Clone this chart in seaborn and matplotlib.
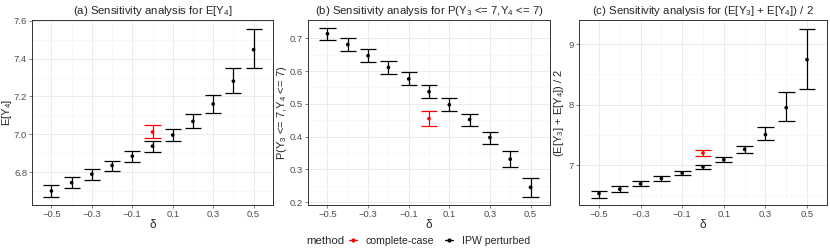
import numpy as np
import pandas as pd
import matplotlib
matplotlib.use("Agg")
import matplotlib.pyplot as plt
from matplotlib.lines import Line2D
from matplotlib.ticker import MultipleLocator, FormatStrFormatter
import seaborn as sns

# delta grid for the IPW perturbed estimates
delta = [-0.5, -0.4, -0.3, -0.2, -0.1, 0.0, 0.1, 0.2, 0.3, 0.4, 0.5]

# (a) E[Y4]
a_est = [6.700, 6.744, 6.789, 6.835, 6.884, 6.937, 6.996, 7.068, 7.160, 7.281, 7.447]
a_lo = [6.667, 6.714, 6.756, 6.805, 6.851, 6.907, 6.963, 7.032, 7.114, 7.216, 7.351]
a_hi = [6.730, 6.772, 6.816, 6.861, 6.912, 6.965, 7.030, 7.105, 7.209, 7.349, 7.554]
a_cc = [7.012, 6.979, 7.051]  # est, lo, hi

# (b) P(Y3 <= 7, Y4 <= 7)
b_est = [0.714, 0.681, 0.647, 0.611, 0.576, 0.537, 0.497, 0.452, 0.397, 0.331, 0.245]
b_lo = [0.694, 0.661, 0.629, 0.592, 0.556, 0.517, 0.477, 0.431, 0.377, 0.306, 0.215]
b_hi = [0.733, 0.702, 0.666, 0.631, 0.596, 0.559, 0.517, 0.470, 0.415, 0.355, 0.274]
b_cc = [0.455, 0.431, 0.477]

# (c) (E[Y3] + E[Y4]) / 2
c_est = [6.530, 6.602, 6.691, 6.779, 6.867, 6.972, 7.088, 7.260, 7.503, 7.950, 8.746]
c_lo = [6.464, 6.558, 6.652, 6.740, 6.834, 6.934, 7.044, 7.193, 7.414, 7.729, 8.254]
c_hi = [6.575, 6.652, 6.735, 6.818, 6.901, 7.000, 7.127, 7.309, 7.630, 8.210, 9.254]
c_cc = [7.199, 7.149, 7.254]

methods = ["complete-case", "IPW perturbed"]
colors = {"complete-case": "#FF0000", "IPW perturbed": "black"}

titles = ["(a) Sensitivity analysis for E[Y$_4$]",
          "(b) Sensitivity analysis for P(Y$_3$ <= 7,Y$_4$ <= 7)",
          "(c) Sensitivity analysis for (E[Y$_3$] + E[Y$_4$]) / 2"]
ylabels = ["E[Y$_4$]", "P(Y$_3$ <= 7,Y$_4$ <= 7)", "(E[Y$_3$] + E[Y$_4$]) / 2"]


def make_df(est, lo, hi, cc):
    d = pd.DataFrame({"delta": delta, "est": est, "lo": lo, "hi": hi,
                      "method": "IPW perturbed"})
    c = pd.DataFrame({"delta": [0.0], "est": [cc[0]], "lo": [cc[1]], "hi": [cc[2]],
                      "method": ["complete-case"]})
    return pd.concat([d, c], ignore_index=True)


panels = [make_df(a_est, a_lo, a_hi, a_cc),
          make_df(b_est, b_lo, b_hi, b_cc),
          make_df(c_est, c_lo, c_hi, c_cc)]

sns.set_theme(style="whitegrid")
plt.rcParams["font.family"] = ["Liberation Sans", "DejaVu Sans"]
plt.rcParams["mathtext.fontset"] = "custom"
plt.rcParams["mathtext.rm"] = "Liberation Sans"
plt.rcParams["mathtext.it"] = "Liberation Sans:italic"

fig = plt.figure(figsize=(8.3, 2.49), dpi=100)
lefts = [32, 308, 579]
rights = [273, 550, 827]
label_x = [14, 289, 566]   # right edge of the rotated y labels, px
bot, top = 1 - 205 / 249, 1 - 20 / 249

ylims = [(6.626, 7.604), (0.191, 0.756), (6.34, 9.40)]
ymajor = [0.2, 0.1, 1.0]
yfmt = ["%.1f", "%.1f", "%d"]
cap = 0.04

for i, df in enumerate(panels):
    w = rights[i] - lefts[i]
    ax = fig.add_axes([lefts[i] / 830, bot, w / 830, top - bot])
    for m in methods:
        sub = df[df["method"] == m]
        ax.vlines(sub["delta"], sub["lo"], sub["hi"], color=colors[m], lw=0.9, zorder=3)
        ax.hlines(sub["lo"], sub["delta"] - cap, sub["delta"] + cap, color=colors[m], lw=0.9, zorder=3)
        ax.hlines(sub["hi"], sub["delta"] - cap, sub["delta"] + cap, color=colors[m], lw=0.9, zorder=3)
    sns.scatterplot(data=df, x="delta", y="est", hue="method", palette=colors,
                    hue_order=methods, s=7, linewidth=0, ax=ax, legend=False, zorder=4)
    ax.set_xlim(-0.596, 0.596)
    ax.set_ylim(*ylims[i])
    ax.set_xticks([-0.5, -0.3, -0.1, 0.1, 0.3, 0.5])
    ax.set_xticklabels(["−0.5", "−0.3", "−0.1", "0.1", "0.3", "0.5"])
    ax.set_xticks([-0.4, -0.2, 0.0, 0.2, 0.4], minor=True)
    ax.yaxis.set_major_locator(MultipleLocator(ymajor[i]))
    ax.yaxis.set_minor_locator(MultipleLocator(ymajor[i] / 2))
    ax.yaxis.set_major_formatter(FormatStrFormatter(yfmt[i]))
    ax.grid(which="major", color="#EBEBEB", lw=0.7)
    ax.grid(which="minor", color="#F4F4F4", lw=0.4)
    ax.set_axisbelow(True)
    for s in ax.spines.values():
        s.set_color("#333333")
        s.set_linewidth(0.7)
    ax.tick_params(axis="both", which="major", labelsize=6.8, colors="#4D4D4D",
                   length=2, width=0.5, pad=1.5, left=True, bottom=True)
    ax.tick_params(axis="both", which="minor", length=0)
    ax.set_xlabel("δ", fontsize=8.5, labelpad=0)
    ax.set_ylabel(ylabels[i], fontsize=8)
    ax.yaxis.set_label_coords((label_x[i] - lefts[i]) / w, 0.5)
    ax.set_title(titles[i], fontsize=8.2, pad=4)

handles = [Line2D([0], [0], color=colors[m], lw=0.9, marker="o", markersize=2.0)
           for m in methods]
fig.text(306 / 830, 0.032, "method", fontsize=8.2, va="center", ha="left")
fig.legend(handles, methods, loc="center left", bbox_to_anchor=(349 / 830, 0.032), ncol=2,
           frameon=False, fontsize=7.6, handlelength=0.8, handletextpad=0.8,
           columnspacing=1.0, borderaxespad=0, borderpad=0)

fig.savefig("out.png", dpi=100)
